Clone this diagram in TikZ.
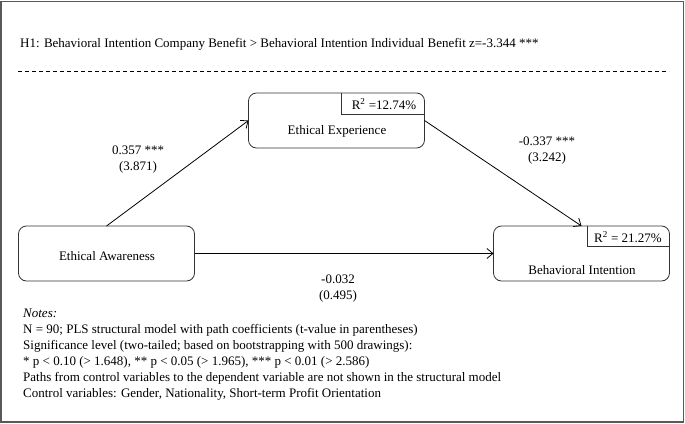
\documentclass[tikz,border=0pt]{standalone}
\usepackage{fontspec}
\setmainfont{Liberation Serif}
\usetikzlibrary{calc,arrows.meta}

\tikzset{
	latent/.style={draw=black!80, line width=0.8pt, rounded corners=8pt, minimum width=176pt, minimum height=55pt, inner sep=0pt, outer sep=0pt},
	rsqline/.style={draw=black!80, line width=0.8pt},
	pathline/.style={draw, line width=0.8pt, -{Straight Barb[length=6pt,width=10pt]}},
	coef/.style={align=center, font=\fontsize{13}{16}\selectfont, inner sep=0pt},
}

\begin{document}
\begin{tikzpicture}[x=1pt, y=-1pt, every node/.style={font=\fontsize{13}{15.5}\selectfont}]
		%%%%% START %%%%%
		
		\useasboundingbox (0, 0) rectangle (685, 423);
		\draw[line width=1.5pt, color=black!65] (1, 1.5) rectangle (683.5, 422);
		
		\node[anchor=west, inner sep=0pt] (hyp) at (20, 44) {H1: Behavioral Intention Company Benefit > Behavioral Intention Individual Benefit z=-3.344 ***};
		\draw[line width=0.7pt, dash pattern=on 4pt off 3pt] (18, 71) -- (669, 71);
		
		\node[latent] (ee) at (336.5, 120.5) {};
		\node[latent] (ea) at (106.5, 253.5) {};
		\node[latent] (bi) at (581.5, 253.5) {};
		
		\draw[rsqline] ([xshift=-83pt]ee.north east) |- ([yshift=-21pt]ee.north east);
		\draw[rsqline] ([xshift=-82pt]bi.north east) |- ([yshift=-20pt]bi.north east);
		\node (eer) at (384, 104) {R\textsuperscript{2} =12.74\%};
		\node (bir) at (628, 237) {R\textsuperscript{2} = 21.27\%};
		
		\node (eel) at (337, 131) {Ethical Experience};
		\node (eal) at (107, 256) {Ethical Awareness};
		\node (bil) at (582, 270) {Behavioral Intention};
		
		\draw[pathline] (ea.north) -- (ee.west);
		\draw[pathline] (ee.east) -- (bi.north);
		\draw[pathline] (ea.east) -- (bi.west);
		
		\node[coef] (eaee) at (138, 160) {0.357 ***\\(3.871)};
		\node[coef] (eebi) at (547, 151) {-0.337 ***\\(3.242)};
		\node[coef] (eabi) at (338, 289) {-0.032\\(0.495)};
		
		\node[anchor=north west, align=left, inner sep=0pt, font=\fontsize{13}{16}\selectfont] (notes) at (23, 309) {\textit{Notes:}\\
			N = 90; PLS structural model with path coefficients (t-value in parentheses)\\
			Significance level (two-tailed; based on bootstrapping with 500 drawings):\\
			* p < 0.10 (> 1.648), ** p < 0.05 (> 1.965), *** p < 0.01 (> 2.586)\\
			Paths from control variables to the dependent variable are not shown in the structural model\\
			Control variables: Gender, Nationality, Short-term Profit Orientation};
		
		%%%%% END %%%%%
	\end{tikzpicture}
\end{document}
